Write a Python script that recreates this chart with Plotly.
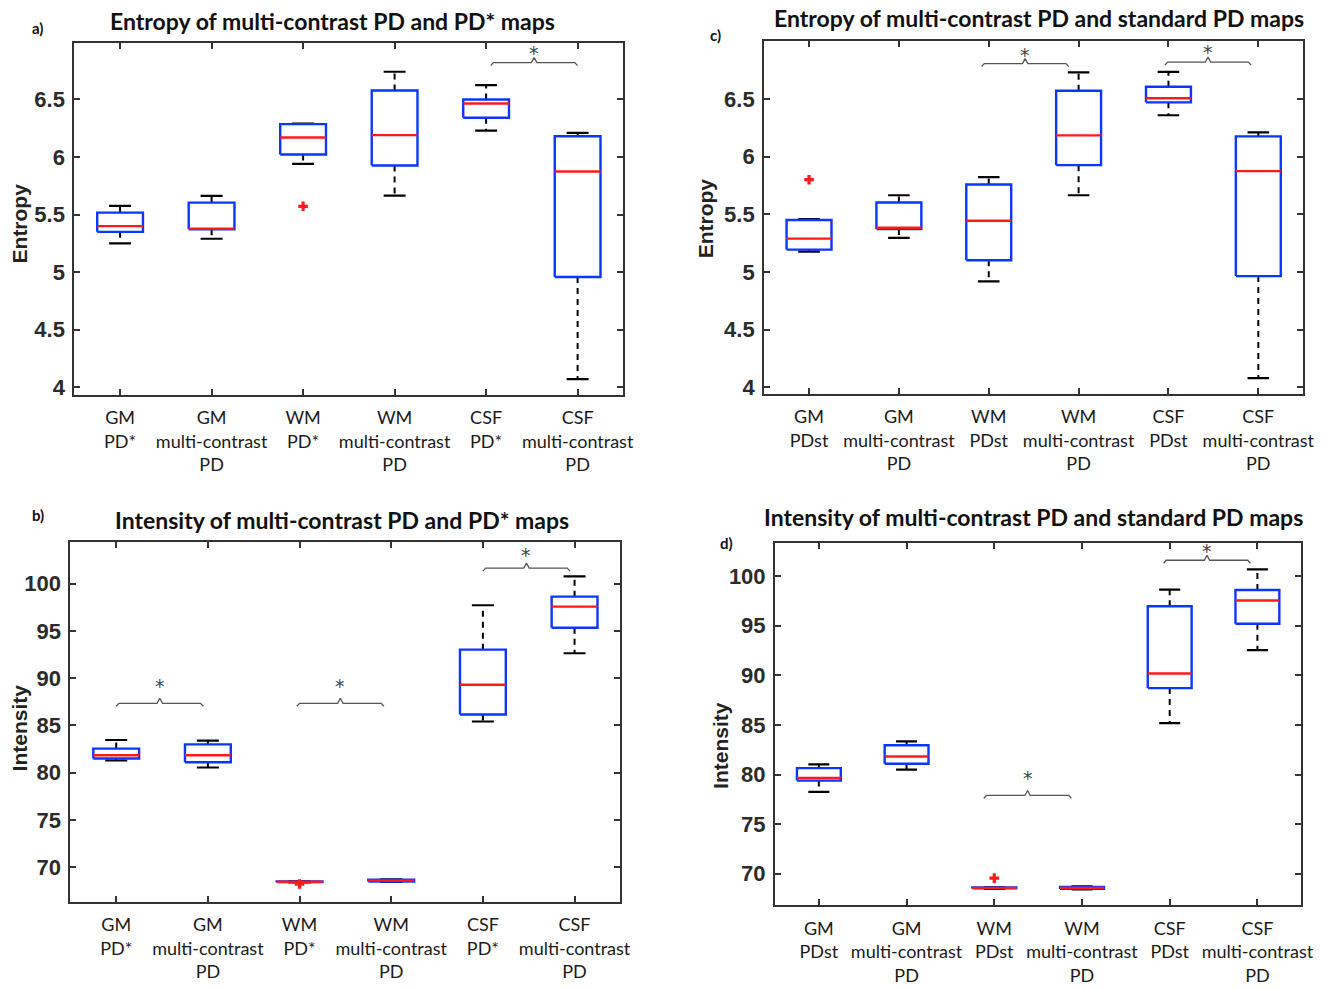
import plotly.graph_objects as go

W, H = 1342, 990

# ---------------- data ----------------
cats_star = ["GM<br>PD*", "GM<br>multi-contrast<br>PD", "WM<br>PD*",
             "WM<br>multi-contrast<br>PD", "CSF<br>PD*", "CSF<br>multi-contrast<br>PD"]
cats_st = ["GM<br>PDst", "GM<br>multi-contrast<br>PD", "WM<br>PDst",
           "WM<br>multi-contrast<br>PD", "CSF<br>PDst", "CSF<br>multi-contrast<br>PD"]

# a) Entropy, multi-contrast PD vs PD*
a_lo = [5.25, 5.29, 5.94, 5.665, 6.23, 4.07]
a_q1 = [5.35, 5.372, 6.022, 5.926, 6.341, 4.958]
a_med = [5.40, 5.378, 6.17, 6.19, 6.465, 5.874]
a_q3 = [5.517, 5.604, 6.286, 6.578, 6.50, 6.181]
a_hi = [5.575, 5.662, 6.291, 6.741, 6.625, 6.21]
a_out_x = [3]
a_out_y = [5.572]
a_brackets = [(5.05, 6.0, 6.82, 6.93)]

# b) Intensity, multi-contrast PD vs PD*
b_lo = [81.28, 80.54, 68.36, 68.43, 85.41, 92.64]
b_q1 = [81.49, 81.10, 68.40, 68.47, 86.15, 95.34]
b_med = [81.84, 81.84, 68.44, 68.56, 89.31, 97.58]
b_q3 = [82.54, 82.99, 68.48, 68.66, 93.02, 98.63]
b_hi = [83.45, 83.38, 68.50, 68.70, 97.72, 100.77]
b_out_x = [3]
b_out_y = [68.2]
b_brackets = [(1.0, 1.95, 87.34, 89.45), (2.97, 3.92, 87.34, 89.45), (5.0, 5.95, 101.65, 103.4)]

# c) Entropy, multi-contrast PD vs standard PD
c_lo = [5.177, 5.295, 4.918, 5.665, 6.359, 4.08]
c_q1 = [5.194, 5.372, 5.102, 5.926, 6.471, 4.964]
c_med = [5.289, 5.383, 5.444, 6.184, 6.506, 5.874]
c_q3 = [5.45, 5.602, 5.759, 6.572, 6.606, 6.176]
c_hi = [5.458, 5.665, 5.823, 6.730, 6.735, 6.21]
c_out_x = [1]
c_out_y = [5.80]
c_brackets = [(2.92, 3.89, 6.807, 6.91), (4.96, 5.92, 6.82, 6.93)]

# d) Intensity, multi-contrast PD vs standard PD
d_lo = [78.26, 80.49, 68.48, 68.43, 85.18, 92.54]
d_q1 = [79.39, 81.09, 68.52, 68.47, 88.71, 95.2]
d_med = [79.65, 81.82, 68.57, 68.57, 90.18, 97.54]
d_q3 = [80.65, 82.95, 68.62, 68.68, 96.97, 98.6]
d_hi = [81.02, 83.35, 68.64, 68.72, 98.63, 100.67]
d_out_x = [3]
d_out_y = [69.56]
d_brackets = [(2.88, 3.88, 77.89, 79.95), (4.93, 5.92, 101.6, 102.86)]

# ---------------- layout of panels (page pixels) ----------------
panels = [
    dict(n=1, cats=cats_star, lo=a_lo, q1=a_q1, med=a_med, q3=a_q3, hi=a_hi,
         ox=a_out_x, oy=a_out_y, br=a_brackets,
         px=(75, 629), py=(43, 397), yr=(3.936, 6.993),
         yt=[4, 4.5, 5, 5.5, 6, 6.5], ytt=["4", "4.5", "5", "5.5", "6", "6.5"],
         title="Entropy of multi-contrast PD and PD* maps", tpos=(336, 21),
         ylab="Entropy", ylpos=(20, 225), tag="a)", tagpos=(38, 28)),
    dict(n=2, cats=cats_star, lo=b_lo, q1=b_q1, med=b_med, q3=b_q3, hi=b_hi,
         ox=b_out_x, oy=b_out_y, br=b_brackets,
         px=(71, 626), py=(545, 907), yr=(66.35, 104.45),
         yt=[70, 75, 80, 85, 90, 95, 100], ytt=None,
         title="Intensity of multi-contrast PD and PD* maps", tpos=(345, 523),
         ylab="Intensity", ylpos=(20, 732), tag="b)", tagpos=(38, 518)),
    dict(n=3, cats=cats_st, lo=c_lo, q1=c_q1, med=c_med, q3=c_q3, hi=c_hi,
         ox=c_out_x, oy=c_out_y, br=c_brackets,
         px=(771, 1315), py=(41, 396), yr=(3.945, 7.005),
         yt=[4, 4.5, 5, 5.5, 6, 6.5], ytt=["4", "4.5", "5", "5.5", "6", "6.5"],
         title="Entropy of multi-contrast PD and standard PD maps", tpos=(1048, 18),
         ylab="Entropy", ylpos=(712, 220), tag="c)", tagpos=(722, 35)),
    dict(n=4, cats=cats_st, lo=d_lo, q1=d_q1, med=d_med, q3=d_q3, hi=d_hi,
         ox=d_out_x, oy=d_out_y, br=d_brackets,
         px=(782, 1313), py=(546, 911), yr=(66.8, 103.37),
         yt=[70, 75, 80, 85, 90, 95, 100], ytt=None,
         title="Intensity of multi-contrast PD and standard PD maps", tpos=(1043, 520),
         ylab="Intensity", ylpos=(727, 750), tag="d)", tagpos=(733, 546)),
]

BLUE = "#0a36ff"
RED = "#ff1a1a"
AX = "#333333"
BOXW = 0.25
CAPW = 0.12


def fx(px):
    return px / W


def fy(py):
    return 1 - py / H


fig = go.Figure()
layout = dict(width=W, height=H, margin=dict(l=0, r=0, t=0, b=0),
              paper_bgcolor="white", plot_bgcolor="white", showlegend=False)
annotations = []

for p in panels:
    n = p["n"]
    xa = "x" if n == 1 else f"x{n}"
    ya = "y" if n == 1 else f"y{n}"
    xk = "xaxis" if n == 1 else f"xaxis{n}"
    yk = "yaxis" if n == 1 else f"yaxis{n}"
    xs = list(range(1, len(p["cats"]) + 1))
    upp = (p["yr"][1] - p["yr"][0]) / (p["py"][1] - p["py"][0])  # data units per pixel

    # whiskers (dashed)
    wx, wy = [], []
    for i, x in enumerate(xs):
        wx += [x, x, None, x, x, None]
        wy += [p["q3"][i], p["hi"][i], None, p["q1"][i], p["lo"][i], None]
    fig.add_trace(go.Scatter(x=wx, y=wy, mode="lines", xaxis=xa, yaxis=ya,
                             line=dict(color="black", width=2, dash="6px,5px"), hoverinfo="skip"))
    # caps
    cx, cy = [], []
    for i, x in enumerate(xs):
        cx += [x - CAPW, x + CAPW, None, x - CAPW, x + CAPW, None]
        cy += [p["hi"][i], p["hi"][i], None, p["lo"][i], p["lo"][i], None]
    fig.add_trace(go.Scatter(x=cx, y=cy, mode="lines", xaxis=xa, yaxis=ya,
                             line=dict(color="black", width=2.2), hoverinfo="skip"))
    # boxes
    bx, by = [], []
    for i, x in enumerate(xs):
        bx += [x - BOXW, x + BOXW, x + BOXW, x - BOXW, x - BOXW, None]
        by += [p["q1"][i], p["q1"][i], p["q3"][i], p["q3"][i], p["q1"][i], None]
    fig.add_trace(go.Scatter(x=bx, y=by, mode="lines", xaxis=xa, yaxis=ya,
                             line=dict(color=BLUE, width=2.4), hoverinfo="skip"))
    # medians
    mx, my = [], []
    for i, x in enumerate(xs):
        mx += [x - BOXW, x + BOXW, None]
        my += [p["med"][i], p["med"][i], None]
    fig.add_trace(go.Scatter(x=mx, y=my, mode="lines", xaxis=xa, yaxis=ya,
                             line=dict(color=RED, width=2.4), hoverinfo="skip"))
    # outliers
    fig.add_trace(go.Scatter(x=p["ox"], y=p["oy"], mode="markers", xaxis=xa, yaxis=ya,
                             marker=dict(symbol="cross", color=RED, size=8), hoverinfo="skip"))
    # significance brackets
    for (x0, x1, yb, ys) in p["br"]:
        xc = (x0 + x1) / 2
        e = 0.03
        fig.add_trace(go.Scatter(
            x=[x0, x0 + e, xc - e, xc, xc + e, x1 - e, x1],
            y=[yb - 3 * upp, yb, yb, yb + 5 * upp, yb, yb, yb - 3 * upp],
            mode="lines", xaxis=xa, yaxis=ya,
            line=dict(color="#555555", width=1.3), hoverinfo="skip"))
        annotations.append(dict(x=xc, y=ys, xref=xa, yref=ya, text="*", showarrow=False,
                                font=dict(family="DejaVu Sans", size=19, color="#444444"),
                                yanchor="middle", yshift=-3))

    layout[xk] = dict(domain=[fx(p["px"][0]), fx(p["px"][1])], anchor=ya,
                      range=[0.5, 6.5], tickvals=xs, ticktext=p["cats"],
                      showline=True, linecolor=AX, linewidth=2, mirror="ticks",
                      ticks="inside", ticklen=6, tickwidth=1.5, tickcolor=AX,
                      showgrid=False, zeroline=False, ticklabelstandoff=6,
                      tickfont=dict(family="Lato, Open Sans, sans-serif", size=18, color="#1a1a1a"))
    layout[yk] = dict(domain=[fy(p["py"][1]), fy(p["py"][0])], anchor=xa,
                      range=list(p["yr"]), tickvals=p["yt"],
                      ticktext=p["ytt"] if p["ytt"] else [str(v) for v in p["yt"]],
                      showline=True, linecolor=AX, linewidth=2, mirror="ticks",
                      ticks="inside", ticklen=6, tickwidth=1.5, tickcolor=AX,
                      showgrid=False, zeroline=False, ticklabelstandoff=3,
                      tickfont=dict(family="Liberation Sans, Arial, sans-serif", size=22,
                                    color="#2b2b2b", weight="bold"))

    annotations.append(dict(x=fx(p["tpos"][0]), y=fy(p["tpos"][1]), xref="paper", yref="paper",
                            text=p["title"], showarrow=False, xanchor="center", yanchor="middle",
                            font=dict(family="Lato, Open Sans, sans-serif", size=23,
                                      color="#111111", weight="bold")))
    annotations.append(dict(x=fx(p["ylpos"][0]), y=fy(p["ylpos"][1]), xref="paper", yref="paper",
                            text=p["ylab"], showarrow=False, textangle=-90,
                            xanchor="center", yanchor="middle",
                            font=dict(family="Liberation Sans, Arial, sans-serif", size=21,
                                      color="#222222", weight="bold")))
    annotations.append(dict(x=fx(p["tagpos"][0]), y=fy(p["tagpos"][1]), xref="paper", yref="paper",
                            text=p["tag"], showarrow=False, xanchor="center", yanchor="middle",
                            font=dict(family="Lato, Open Sans, sans-serif", size=15,
                                      color="#111111", weight="bold")))

layout["annotations"] = annotations
fig.update_layout(**layout)
fig.write_html("out.html", config={"displayModeBar": False},
               post_script="document.body.style.margin='0';document.body.style.overflow='hidden';")
